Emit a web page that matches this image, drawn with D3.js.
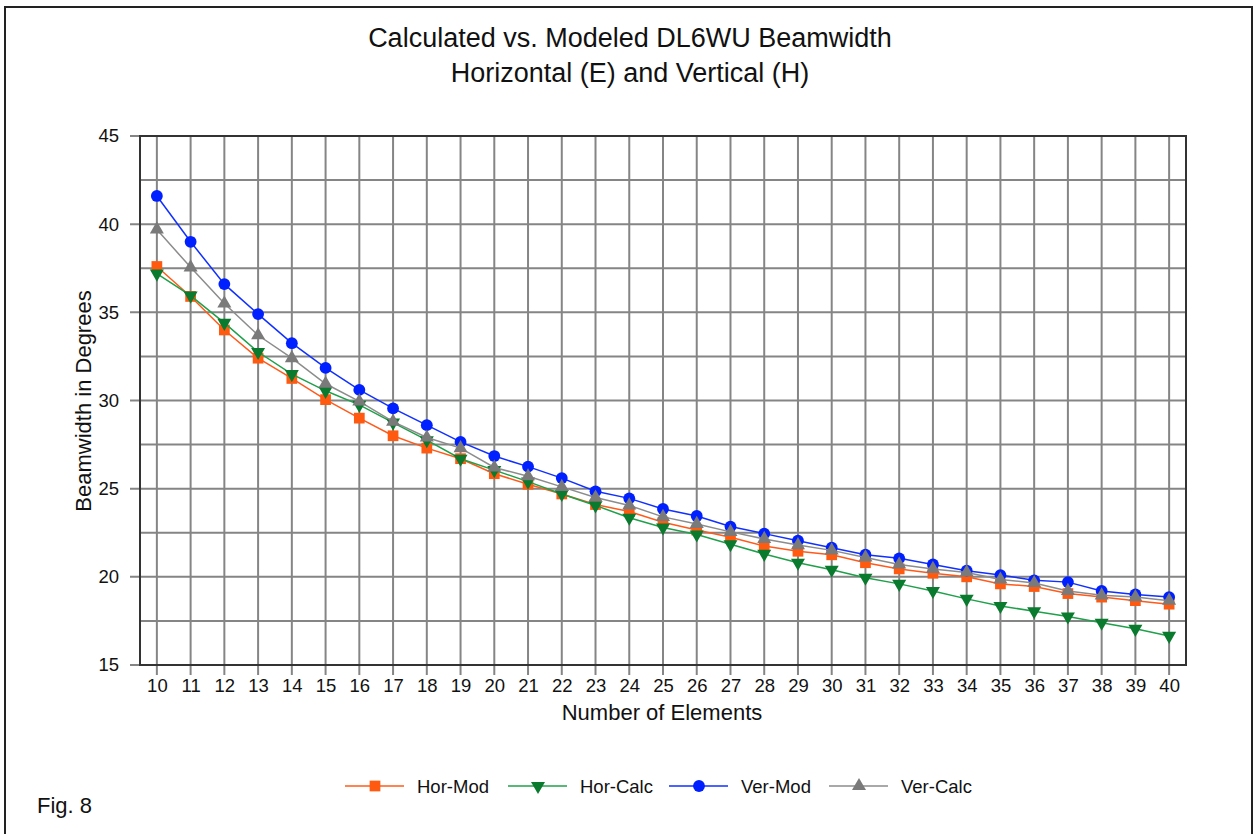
<!DOCTYPE html>
<html>
<head>
<meta charset="utf-8">
<script src="https://cdn.jsdelivr.net/npm/d3@7"></script>
<style>
  body { margin: 0; background: #fff; }
  text { font-family: "Liberation Sans", Arial, sans-serif; fill: #111; }
</style>
</head>
<body>
<svg width="1258" height="834"></svg>
<script>
// Data
var elements = d3.range(10, 41);
var horMod = [37.6, 35.9, 34.0, 32.4, 31.25, 30.05, 29.0, 28.0, 27.3, 26.7, 25.85, 25.25, 24.7, 24.1, 23.7, 23.1, 22.65, 22.25, 21.75, 21.45, 21.25, 20.8, 20.45, 20.2, 20.0, 19.6, 19.45, 19.05, 18.85, 18.65, 18.45];
var horCalc = [37.2, 35.95, 34.4, 32.75, 31.5, 30.55, 29.75, 28.75, 27.75, 26.7, 26.05, 25.4, 24.7, 24.05, 23.35, 22.8, 22.4, 21.85, 21.3, 20.8, 20.4, 19.95, 19.6, 19.2, 18.75, 18.35, 18.05, 17.75, 17.4, 17.05, 16.65];
var verMod = [41.6, 39.0, 36.6, 34.9, 33.25, 31.85, 30.6, 29.55, 28.6, 27.65, 26.85, 26.25, 25.6, 24.85, 24.45, 23.85, 23.45, 22.85, 22.45, 22.05, 21.65, 21.25, 21.05, 20.7, 20.35, 20.1, 19.8, 19.7, 19.2, 19.0, 18.85];
var verCalc = [39.7, 37.55, 35.5, 33.7, 32.4, 30.95, 29.95, 28.8, 27.9, 27.3, 26.2, 25.7, 25.1, 24.5, 24.05, 23.4, 23.0, 22.55, 22.15, 21.8, 21.5, 21.1, 20.7, 20.45, 20.25, 19.85, 19.65, 19.2, 18.95, 18.85, 18.65];
var seriesNames = ["Hor-Mod", "Hor-Calc", "Ver-Mod", "Ver-Calc"];
var yTicks = [15, 20, 25, 30, 35, 40, 45];

var series = [
  { name: seriesNames[0], values: horMod, line: "#ff5a1a", fill: "#ff5a10", shape: "square" },
  { name: seriesNames[1], values: horCalc, line: "#1fa04a", fill: "#0a7a2e", shape: "tridown" },
  { name: seriesNames[2], values: verMod, line: "#1030ff", fill: "#0020ff", shape: "circle" },
  { name: seriesNames[3], values: verCalc, line: "#8c8c8c", fill: "#7a7a7a", shape: "triup" }
];

var svg = d3.select("svg");
var pLeft = 140, pRight = 1186, pTop = 136, pBottom = 665;

// outer frame
svg.append("rect")
  .attr("x", 5).attr("y", 7)
  .attr("width", 1247).attr("height", 840)
  .attr("fill", "none").attr("stroke", "#222").attr("stroke-width", 2);

var x = d3.scaleLinear().domain([9.5, 40.5]).range([pLeft, pRight]);
var y = d3.scaleLinear().domain([15, 45]).range([pBottom, pTop]);

// grid
var g = svg.append("g");
g.selectAll(".vg").data(elements).enter().append("line")
  .attr("x1", function (d) { return x(d); }).attr("x2", function (d) { return x(d); })
  .attr("y1", pTop).attr("y2", pBottom + 10)
  .attr("stroke", "#858585").attr("stroke-width", 2);
g.selectAll(".hg").data(d3.range(15, 45.1, 2.5)).enter().append("line")
  .attr("x1", function (d) { return yTicks.indexOf(d) >= 0 ? pLeft - 10 : pLeft; })
  .attr("x2", pRight)
  .attr("y1", function (d) { return y(d); }).attr("y2", function (d) { return y(d); })
  .attr("stroke", "#858585").attr("stroke-width", 2);

// plot frame
svg.append("rect")
  .attr("x", pLeft).attr("y", pTop)
  .attr("width", pRight - pLeft).attr("height", pBottom - pTop)
  .attr("fill", "none").attr("stroke", "#333").attr("stroke-width", 2);

// axes labels
var xAxis = d3.axisBottom(x).tickValues(elements).tickSize(0).tickPadding(14);
svg.append("g").attr("transform", "translate(0," + pBottom + ")").call(xAxis)
  .call(function (s) { s.select(".domain").remove(); })
  .selectAll("text").style("font-size", "18.5px").attr("fill", "#111");
var yAxis = d3.axisLeft(y).tickValues(yTicks).tickSize(0).tickPadding(21);
svg.append("g").attr("transform", "translate(" + pLeft + ",0)").call(yAxis)
  .call(function (s) { s.select(".domain").remove(); })
  .selectAll("text").style("font-size", "18.5px").attr("fill", "#111");

// markers
var sym = {
  square: d3.symbol().type(d3.symbolSquare).size(115),
  circle: d3.symbol().type(d3.symbolCircle).size(110),
  triup: d3.symbol().type(d3.symbolTriangle).size(85)
};
function marker(sel, shape) {
  if (shape === "tridown") {
    sel.attr("d", sym.triup()).attr("transform", function () {
      return d3.select(this).attr("transform") + " rotate(180)";
    });
  } else {
    sel.attr("d", sym[shape]());
  }
}

var line = d3.line()
  .x(function (d, i) { return x(elements[i]); })
  .y(function (d) { return y(d); });

series.forEach(function (s) {
  svg.append("path").datum(s.values)
    .attr("d", line).attr("fill", "none")
    .attr("stroke", s.line).attr("stroke-width", 1.5);
  svg.selectAll(".m" + s.shape).data(s.values).enter().append("path")
    .attr("transform", function (d, i) { return "translate(" + x(elements[i]) + "," + y(d) + ")"; })
    .attr("fill", s.fill)
    .call(marker, s.shape);
});

// titles
svg.append("text").attr("x", 630).attr("y", 47).attr("text-anchor", "middle")
  .style("font-size", "27px").text("Calculated vs. Modeled DL6WU Beamwidth");
svg.append("text").attr("x", 630).attr("y", 82).attr("text-anchor", "middle")
  .style("font-size", "27px").text("Horizontal (E) and Vertical (H)");
svg.append("text").attr("x", 662).attr("y", 720).attr("text-anchor", "middle")
  .style("font-size", "22px").text("Number of Elements");
svg.append("text").attr("transform", "translate(91,401) rotate(-90)").attr("text-anchor", "middle")
  .style("font-size", "22px").text("Beamwidth in Degrees");
svg.append("text").attr("x", 37).attr("y", 813)
  .style("font-size", "22px").text("Fig. 8");

// legend
var legX = [345, 508, 669, 829];
series.forEach(function (s, i) {
  var lg = svg.append("g").attr("transform", "translate(" + legX[i] + ",786)");
  lg.append("line").attr("x1", 0).attr("x2", 59).attr("stroke", s.line).attr("stroke-width", 1.5);
  lg.append("path").attr("transform", "translate(30,0)").attr("fill", s.fill).call(marker, s.shape);
  lg.append("text").attr("x", 72).attr("y", 7).style("font-size", "18.5px").text(s.name);
});
</script>
</body>
</html>
